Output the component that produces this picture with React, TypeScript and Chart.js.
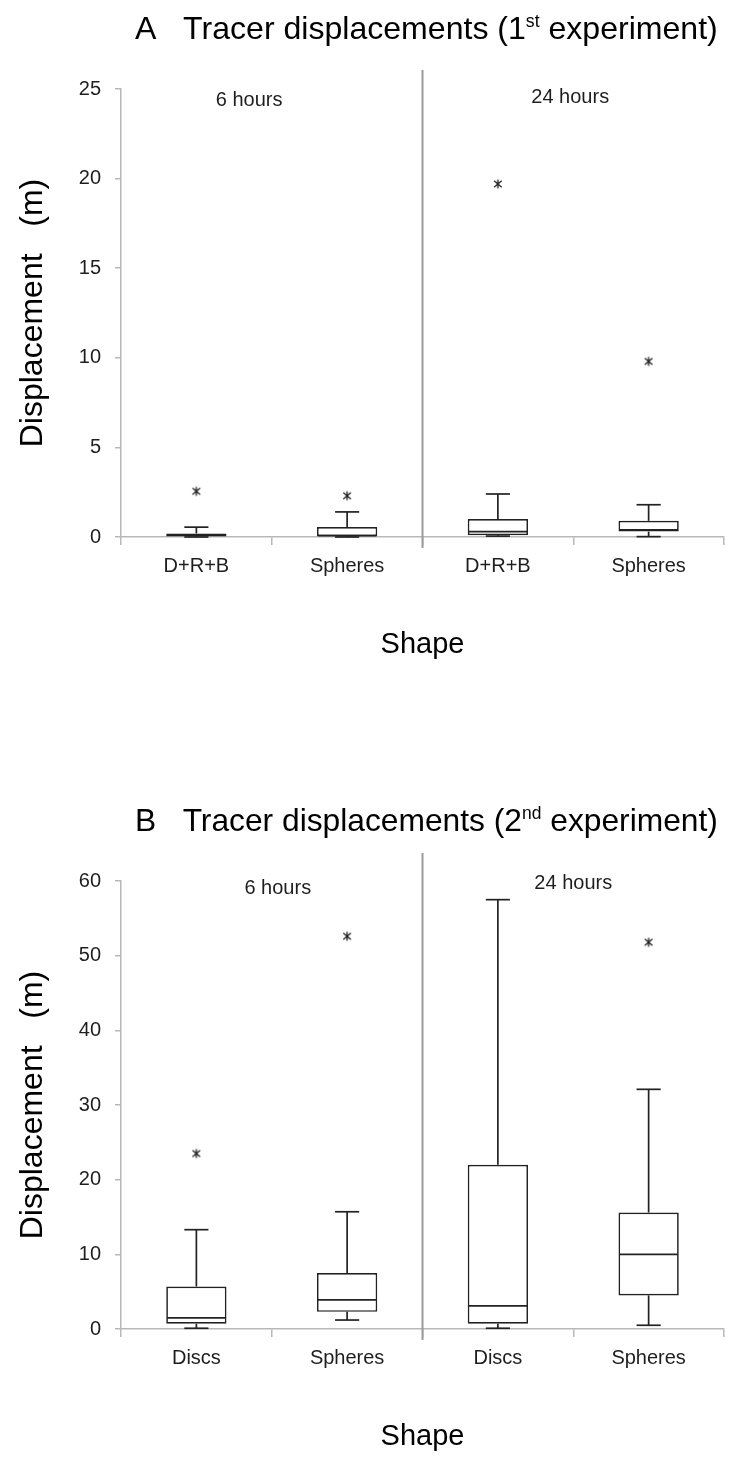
import React, { useEffect, useRef } from "react";
import { Chart, registerables } from "chart.js";
Chart.register(...registerables);

// ---------- Data ----------
const categoriesA = ["D+R+B", "Spheres", "D+R+B", "Spheres"];
const minA = [0.0, 0.0, 0.05, 0.02];
const q1A = [0.03, 0.04, 0.1, 0.3];
const medA = [0.1, 0.08, 0.3, 0.4];
const q3A = [0.2, 0.56, 1.0, 0.9];
const maxA = [0.55, 1.4, 2.4, 1.8];
const outA: (number | null)[] = [2.55, 2.3, 19.7, 9.8];
const yMaxA = 25;
const yStepA = 5;

const categoriesB = ["Discs", "Spheres", "Discs", "Spheres"];
const minB = [0.1, 1.2, 0.1, 0.5];
const q1B = [0.7, 2.3, 0.7, 4.5];
const medB = [1.5, 3.9, 3.1, 10.0];
const q3B = [5.7, 7.5, 22.0, 15.6];
const maxB = [13.3, 15.7, 57.5, 32.1];
const outB: (number | null)[] = [23.5, 52.6, null, 51.8];
const yMaxB = 60;
const yStepB = 10;

const groupLabels = ["6 hours", "24 hours"];
const titleA = [
  { t: "A   Tracer displacements (1", sup: false },
  { t: "st", sup: true },
  { t: " experiment)", sup: false },
];
const titleB = [
  { t: "B   Tracer displacements (2", sup: false },
  { t: "nd", sup: true },
  { t: " experiment)", sup: false },
];
const yTitle = "Displacement   (m)";
const xTitle = "Shape";

// ---------- Styling ----------
const FONT = "'Liberation Sans', Arial, sans-serif";
const AXIS = "#b8b8b8";
const INK = "#1e1e1e";

function makeStar(): HTMLCanvasElement {
  const c = document.createElement("canvas");
  c.width = 12;
  c.height = 12;
  const g = c.getContext("2d")!;
  g.strokeStyle = "#222";
  g.lineWidth = 1.3;
  g.beginPath();
  g.moveTo(6, 1.5);
  g.lineTo(6, 10.5);
  g.moveTo(2.2, 2.8);
  g.lineTo(9.8, 9.2);
  g.moveTo(9.8, 2.8);
  g.lineTo(2.2, 9.2);
  g.stroke();
  return c;
}

const decorPlugin = {
  id: "decor",
  afterDatasetsDraw(chart: any, _args: any, opts: any) {
    const { ctx } = chart;
    const x = chart.scales.x;
    const y = chart.scales.y;
    const meta = chart.getDatasetMeta(0);
    ctx.save();
    ctx.strokeStyle = "#222";
    ctx.lineWidth = 1.7;
    const seg = (x1: number, y1: number, x2: number, y2: number) => {
      ctx.beginPath();
      ctx.moveTo(x1, y1);
      ctx.lineTo(x2, y2);
      ctx.stroke();
    };
    opts.med.forEach((m: number, i: number) => {
      const bar = meta.data[i];
      const cx = x.getPixelForValue(i);
      const w = bar.width;
      const cap = w * 0.4;
      seg(cx - w / 2 + 1, y.getPixelForValue(m), cx + w / 2 - 1, y.getPixelForValue(m));
      seg(cx, y.getPixelForValue(opts.q3[i]), cx, y.getPixelForValue(opts.max[i]));
      seg(cx - cap / 2, y.getPixelForValue(opts.max[i]), cx + cap / 2, y.getPixelForValue(opts.max[i]));
      seg(cx, y.getPixelForValue(opts.q1[i]), cx, y.getPixelForValue(opts.min[i]));
      seg(cx - cap / 2, y.getPixelForValue(opts.min[i]), cx + cap / 2, y.getPixelForValue(opts.min[i]));
    });
    ctx.restore();
  },
  afterDraw(chart: any, _args: any, opts: any) {
    const { ctx, chartArea } = chart;
    const x = chart.scales.x;
    ctx.save();
    // divider
    const dx = x.getPixelForValue(1.5);
    ctx.strokeStyle = "#9a9a9a";
    ctx.lineWidth = 2;
    ctx.beginPath();
    ctx.moveTo(dx, chartArea.top - opts.divTop);
    ctx.lineTo(dx, chartArea.bottom + 11);
    ctx.stroke();
    // group labels
    ctx.fillStyle = INK;
    ctx.font = `20px ${FONT}`;
    ctx.textAlign = "center";
    ctx.textBaseline = "middle";
    opts.groups.forEach((g: any, i: number) => {
      ctx.fillText(groupLabels[i], x.getPixelForValue(g.v), g.y);
    });
    // title: pick a font size whose natural width fills the target width
    const base = 26;
    let total = 0;
    opts.title.forEach((p: any) => {
      ctx.font = `${p.sup ? base * 0.55 : base}px ${FONT}`;
      total += ctx.measureText(p.t).width;
    });
    const size = (base * opts.titleW) / total;
    ctx.textAlign = "left";
    ctx.textBaseline = "alphabetic";
    ctx.fillStyle = "#000";
    let cx = opts.titleX;
    opts.title.forEach((p: any) => {
      ctx.font = `${p.sup ? size * 0.55 : size}px ${FONT}`;
      ctx.fillText(p.t, cx, opts.titleY + (p.sup ? -size * 0.38 : 0));
      cx += ctx.measureText(p.t).width;
    });
    ctx.restore();
  },
};

type Cfg = {
  height: number;
  cats: string[];
  min: number[];
  q1: number[];
  med: number[];
  q3: number[];
  max: number[];
  out: (number | null)[];
  yMax: number;
  yStep: number;
  top: number;
  xH: number;
  shapePad: number;
  title: { t: string; sup: boolean }[];
  titleY: number;
  divTop: number;
  groups: { v: number; y: number }[];
};

function BoxChart({ cfg }: { cfg: Cfg }) {
  const ref = useRef<HTMLCanvasElement>(null);
  useEffect(() => {
    const star = makeStar();
    const chart = new Chart(ref.current!, {
      type: "bar",
      data: {
        labels: cfg.cats,
        datasets: [
          {
            type: "bar",
            data: cfg.q1.map((v, i) => [v, cfg.q3[i]]) as any,
            backgroundColor: "#ffffff",
            borderColor: "#222",
            borderWidth: 1.7,
            borderSkipped: false,
            barPercentage: 0.4,
            categoryPercentage: 1,
          },
          {
            type: "line",
            data: cfg.out as any,
            showLine: false,
            pointStyle: star as any,
            pointRadius: 6,
          } as any,
        ],
      },
      options: {
        animation: false,
        responsive: false,
        layout: { padding: { top: cfg.top, left: 0, right: 0, bottom: 0 } },
        plugins: {
          legend: { display: false },
          tooltip: { enabled: false },
          decor: {
            min: cfg.min,
            q1: cfg.q1,
            med: cfg.med,
            q3: cfg.q3,
            max: cfg.max,
            title: cfg.title,
            titleX: 135,
            titleY: cfg.titleY,
            titleW: 583,
            divTop: cfg.divTop,
            groups: cfg.groups,
          },
        } as any,
        scales: {
          x: {
            type: "category",
            offset: true,
            grid: {
              display: true,
              offset: true,
              drawOnChartArea: false,
              drawTicks: true,
              tickLength: 8,
              color: AXIS,
              lineWidth: 1.5,
            },
            border: { display: true, color: AXIS, width: 1.5 },
            ticks: { font: { family: FONT, size: 20 }, color: INK, padding: 9, maxRotation: 0 },
            title: {
              display: true,
              text: xTitle,
              font: { family: FONT, size: 29 },
              color: "#000",
              padding: { top: 0, bottom: cfg.shapePad },
            },
            afterFit: (s: any) => {
              s.height = cfg.xH;
            },
          },
          y: {
            min: 0,
            max: cfg.yMax,
            ticks: { stepSize: cfg.yStep, font: { family: FONT, size: 20 }, color: INK, padding: 14 },
            grid: {
              drawOnChartArea: false,
              drawTicks: true,
              tickLength: 6,
              color: AXIS,
              lineWidth: 1.5,
            },
            border: { display: true, color: AXIS, width: 1.5 },
            title: {
              display: true,
              text: yTitle,
              font: { family: FONT, size: 32 },
              color: "#000",
              padding: { top: 14, bottom: 0 },
            },
            afterFit: (s: any) => {
              s.width = 121;
            },
          },
        },
      } as any,
      plugins: [decorPlugin],
    });
    return () => chart.destroy();
  }, []);
  return <canvas ref={ref} width={731} height={cfg.height} style={{ display: "block" }} />;
}

const cfgA: Cfg = {
  height: 728,
  cats: categoriesA,
  min: minA,
  q1: q1A,
  med: medA,
  q3: q3A,
  max: maxA,
  out: outA,
  yMax: yMaxA,
  yStep: yStepA,
  top: 89,
  xH: 191,
  shapePad: 66,
  title: titleA,
  titleY: 39,
  divTop: 19,
  groups: [
    { v: 0.35, y: 100 },
    { v: 2.48, y: 97 },
  ],
};

const cfgB: Cfg = {
  height: 729,
  cats: categoriesB,
  min: minB,
  q1: q1B,
  med: medB,
  q3: q3B,
  max: maxB,
  out: outB,
  yMax: yMaxB,
  yStep: yStepB,
  top: 153,
  xH: 128,
  shapePad: 3,
  title: titleB,
  titleY: 103,
  divTop: 28,
  groups: [
    { v: 0.54, y: 160 },
    { v: 2.5, y: 155 },
  ],
};

export default function App() {
  return (
    <div style={{ position: "absolute", left: 0, top: 0, width: 731, height: 1457, background: "#fff" }}>
      <div style={{ position: "absolute", left: 0, top: 0 }}>
        <BoxChart cfg={cfgA} />
      </div>
      <div style={{ position: "absolute", left: 0, top: 728 }}>
        <BoxChart cfg={cfgB} />
      </div>
    </div>
  );
}
